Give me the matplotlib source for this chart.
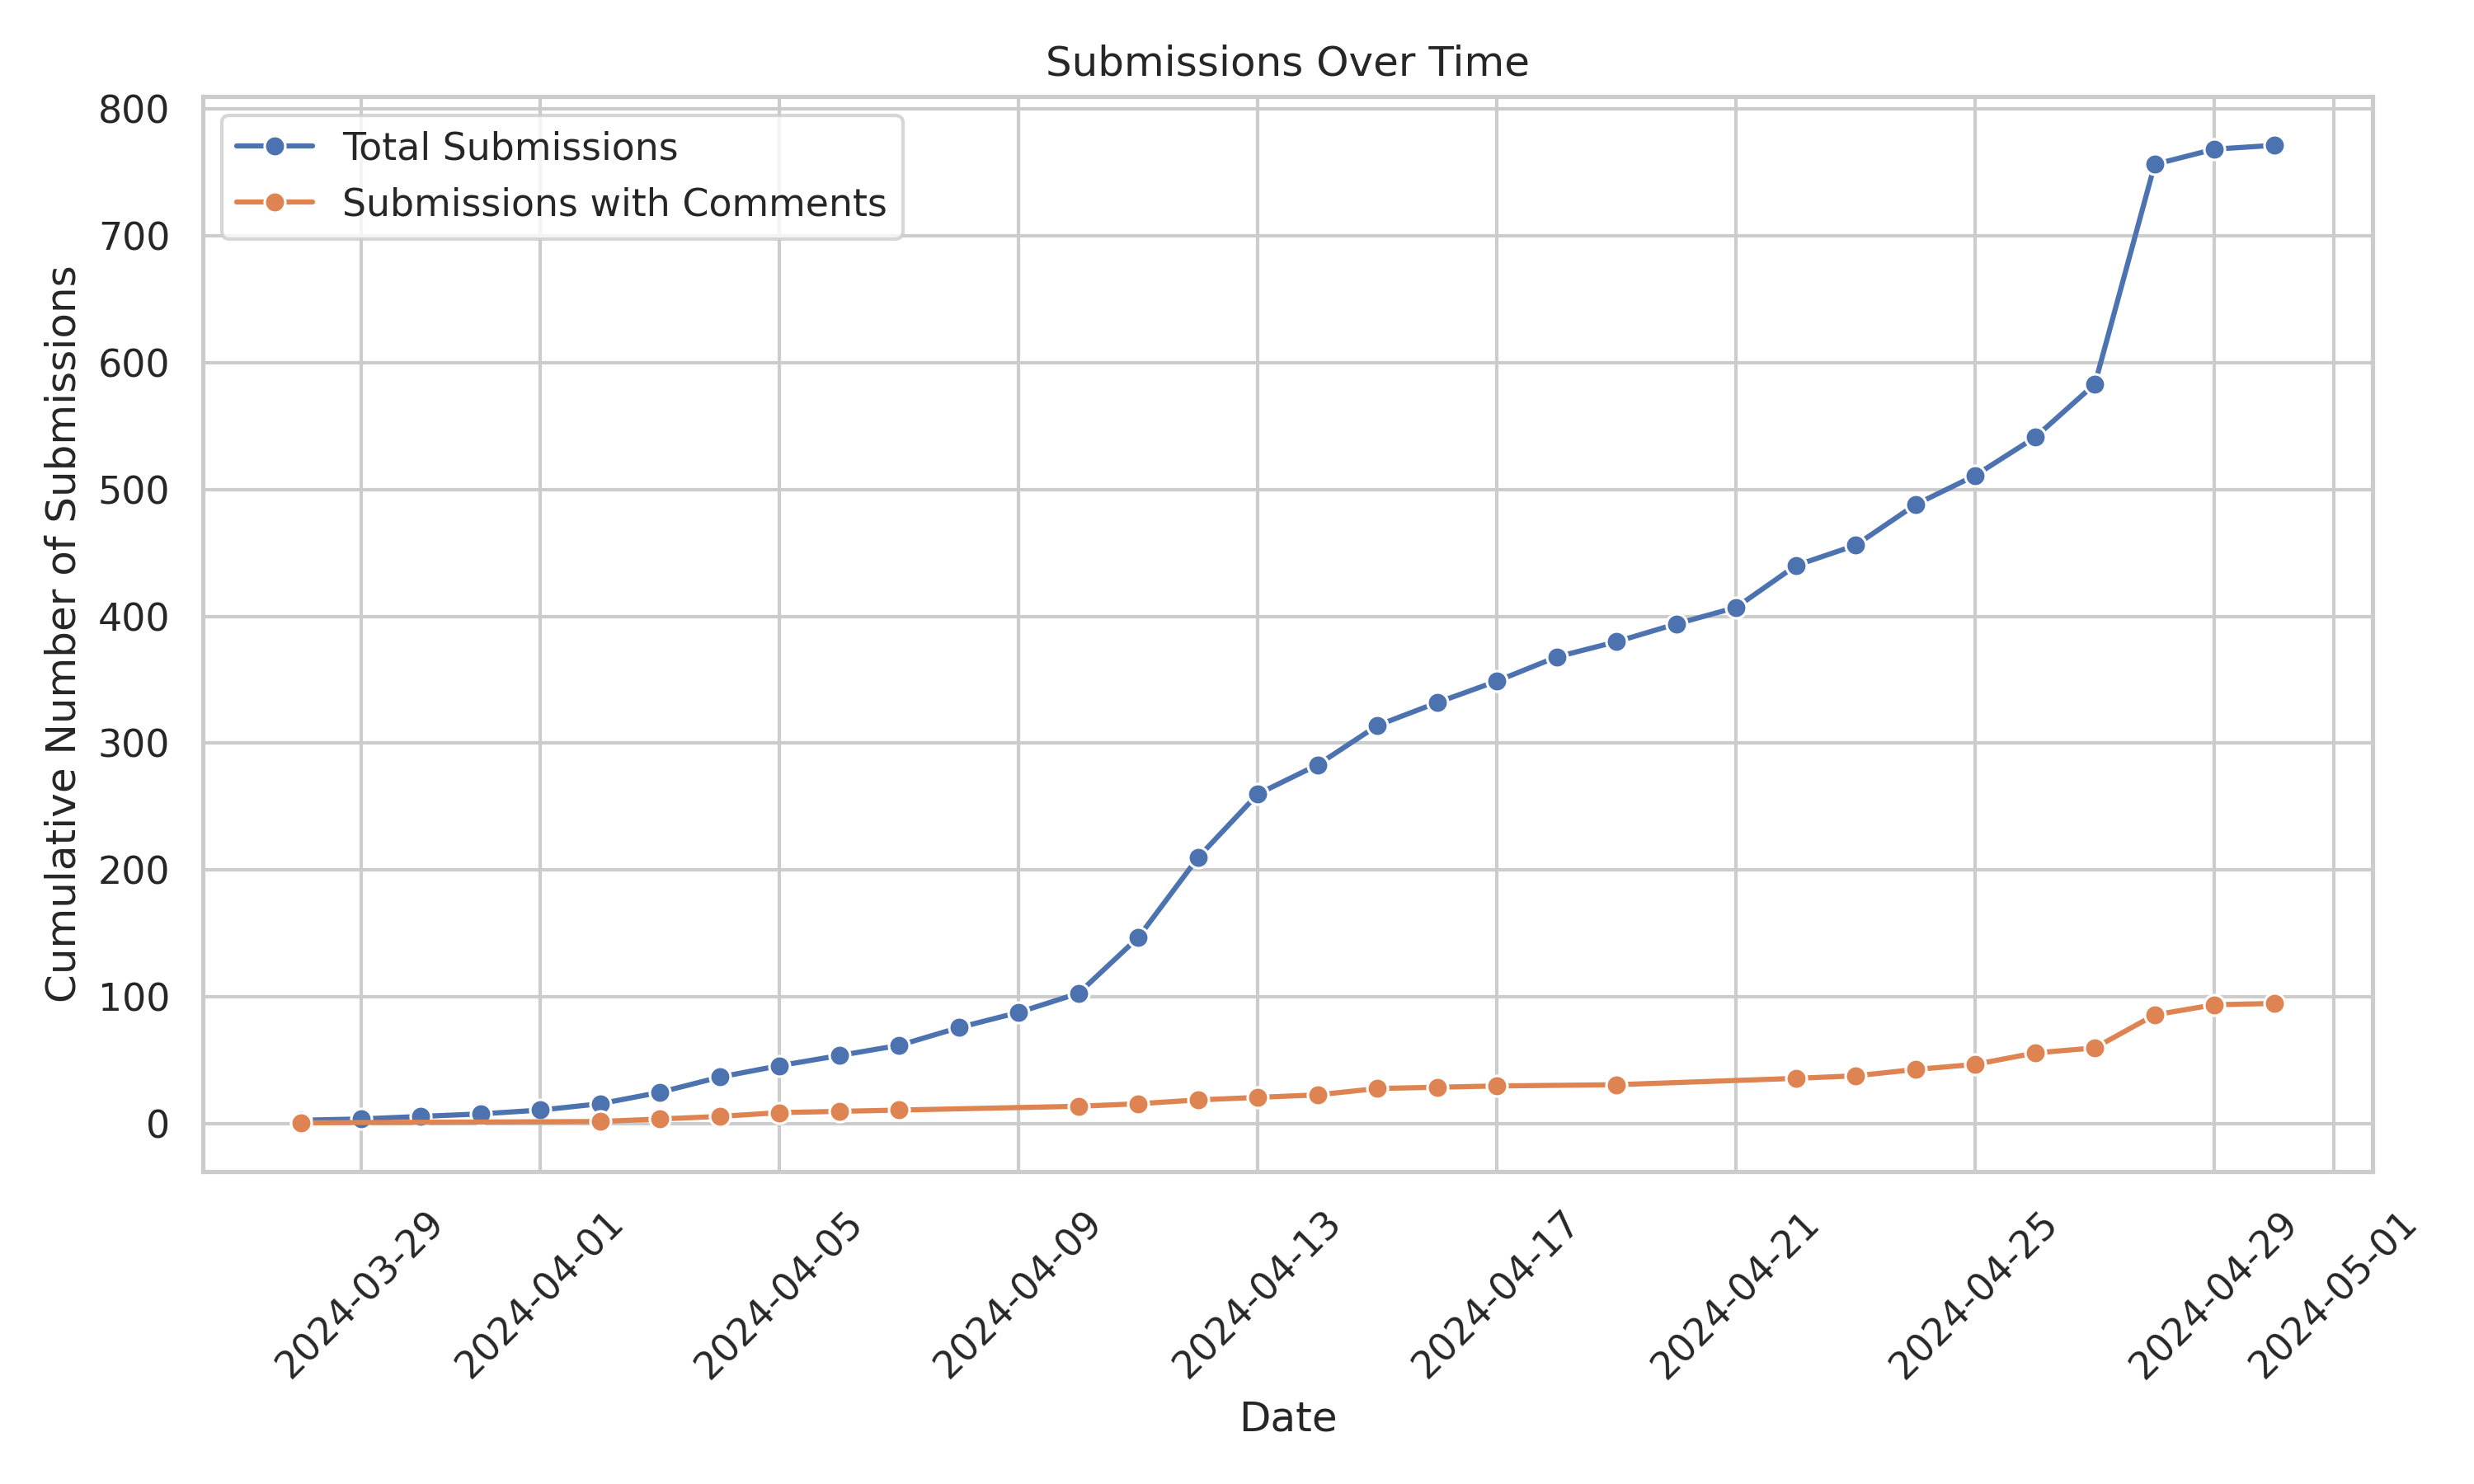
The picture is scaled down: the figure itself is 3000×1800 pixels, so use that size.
import matplotlib
matplotlib.use("Agg")
import matplotlib.pyplot as plt
import seaborn as sns
import pandas as pd

sns.set_theme(style="whitegrid")

total_dates = pd.date_range("2024-03-28", "2024-04-30", freq="D")
total_values = [3, 4, 6, 8, 11, 16, 25, 37, 46, 54, 62, 76, 88, 103, 147, 210, 260, 283,
                314, 332, 349, 368, 380, 394, 407, 440, 456, 488, 511, 541, 583, 756, 768, 771]

comment_dates = pd.to_datetime([
    "2024-03-28", "2024-04-02", "2024-04-03", "2024-04-04", "2024-04-05", "2024-04-06",
    "2024-04-07", "2024-04-10", "2024-04-11", "2024-04-12", "2024-04-13", "2024-04-14",
    "2024-04-15", "2024-04-16", "2024-04-17", "2024-04-19", "2024-04-22", "2024-04-23",
    "2024-04-24", "2024-04-25", "2024-04-26", "2024-04-27", "2024-04-28", "2024-04-29",
    "2024-04-30"])
comment_values = [1, 2, 4, 6, 9, 10, 11, 14, 16, 19, 21, 23, 28, 29, 30, 31, 36, 38,
                  43, 47, 56, 60, 86, 94, 95]

fig, ax = plt.subplots(figsize=(10, 6), dpi=300)
ax.plot(total_dates, total_values, marker="o", markersize=6, markeredgecolor="white",
        markeredgewidth=0.75, color="#4c72b0", label="Total Submissions", linewidth=1.5)
ax.plot(comment_dates, comment_values, marker="o", markersize=6, markeredgecolor="white",
        markeredgewidth=0.75, color="#dd8452", label="Submissions with Comments", linewidth=1.5)
ax.set_title("Submissions Over Time")
ax.set_xlabel("Date")
ax.set_ylabel("Cumulative Number of Submissions")
ax.legend(loc="upper left")
plt.xticks(rotation=45)
fig.tight_layout()
fig.savefig("out.png", dpi=300)
